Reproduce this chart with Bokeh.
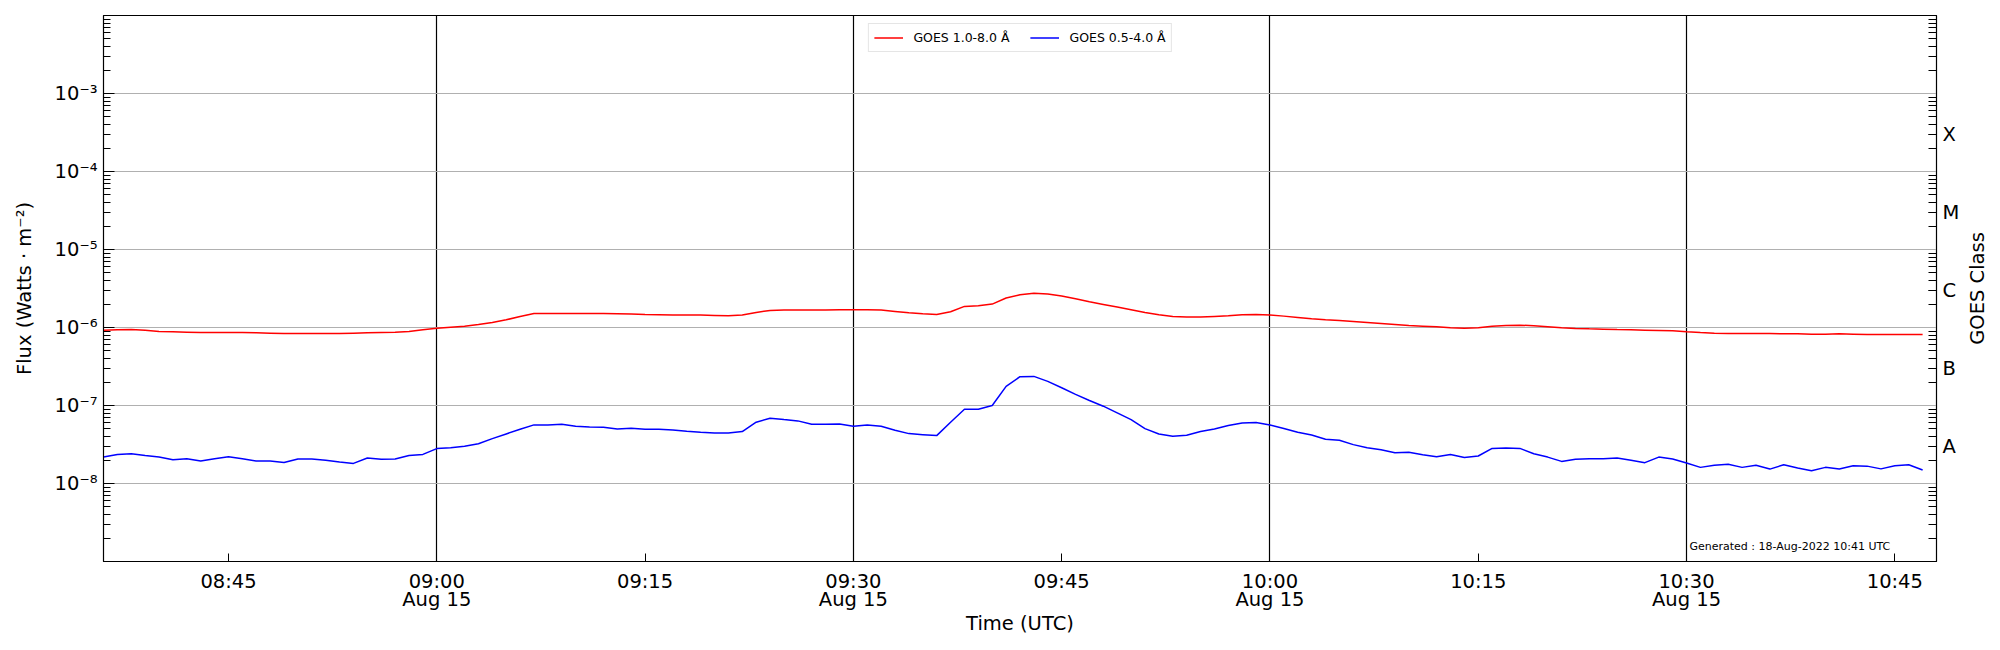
import pandas as pd
from bokeh.plotting import figure
from bokeh.layouts import row
from bokeh.models import Range1d, FixedTicker, LogAxis, Label, ColumnDataSource
from bokeh.embed import file_html
from bokeh.resources import INLINE

# ---------------- data ----------------
start_time = "2022-08-15 08:36"
x_start = "2022-08-15 08:36"
x_end = "2022-08-15 10:48"

flux_long = [
    9.24e-7, 9.33e-7, 9.42e-7, 9.24e-7, 8.88e-7, 8.80e-7, 8.71e-7, 8.62e-7, 8.62e-7, 8.62e-7,
    8.62e-7, 8.54e-7, 8.45e-7, 8.37e-7, 8.37e-7, 8.37e-7, 8.37e-7, 8.37e-7, 8.45e-7, 8.54e-7,
    8.62e-7, 8.71e-7, 8.88e-7, 9.33e-7,
    9.80e-7, 1.010e-6, 1.040e-6, 1.093e-6, 1.160e-6, 1.255e-6, 1.386e-6, 1.514e-6, 1.514e-6, 1.514e-6,
    1.514e-6, 1.514e-6, 1.514e-6, 1.500e-6, 1.485e-6, 1.470e-6, 1.456e-6, 1.442e-6, 1.442e-6, 1.442e-6,
    1.427e-6, 1.413e-6, 1.442e-6, 1.560e-6, 1.655e-6, 1.671e-6, 1.671e-6, 1.671e-6, 1.671e-6, 1.689e-6,
    1.689e-6, 1.689e-6, 1.671e-6, 1.607e-6, 1.545e-6, 1.500e-6, 1.470e-6, 1.592e-6, 1.863e-6, 1.901e-6,
    1.996e-6, 2.386e-6, 2.634e-6, 2.740e-6, 2.686e-6, 2.530e-6, 2.339e-6, 2.140e-6, 1.977e-6, 1.828e-6,
    1.689e-6, 1.560e-6, 1.456e-6, 1.386e-6, 1.359e-6, 1.359e-6, 1.386e-6, 1.413e-6, 1.456e-6, 1.470e-6,
    1.442e-6, 1.399e-6, 1.345e-6, 1.293e-6, 1.255e-6, 1.231e-6, 1.195e-6, 1.160e-6, 1.126e-6, 1.093e-6,
    1.061e-6, 1.040e-6, 1.020e-6, 9.90e-7, 9.80e-7, 9.90e-7, 1.040e-6, 1.061e-6, 1.072e-6, 1.051e-6,
    1.020e-6, 9.90e-7, 9.71e-7, 9.61e-7, 9.52e-7, 9.42e-7, 9.33e-7, 9.24e-7, 9.15e-7, 9.06e-7,
    8.80e-7, 8.62e-7, 8.45e-7, 8.37e-7, 8.37e-7, 8.37e-7, 8.37e-7, 8.29e-7, 8.29e-7, 8.21e-7,
    8.21e-7, 8.29e-7, 8.21e-7, 8.13e-7, 8.13e-7, 8.13e-7, 8.13e-7, 8.13e-7,
]

flux_short = [
    2.18e-8, 2.36e-8, 2.41e-8, 2.29e-8, 2.18e-8, 2.02e-8, 2.08e-8, 1.94e-8, 2.08e-8, 2.20e-8,
    2.08e-8, 1.94e-8, 1.94e-8, 1.86e-8, 2.06e-8, 2.06e-8, 1.98e-8, 1.88e-8, 1.81e-8, 2.12e-8,
    2.04e-8, 2.06e-8, 2.29e-8, 2.36e-8,
    2.80e-8, 2.88e-8, 3.00e-8, 3.24e-8, 3.76e-8, 4.32e-8, 4.96e-8, 5.64e-8, 5.64e-8, 5.75e-8,
    5.42e-8, 5.31e-8, 5.26e-8, 5.01e-8, 5.11e-8, 4.96e-8, 4.96e-8, 4.86e-8, 4.67e-8, 4.54e-8,
    4.45e-8, 4.45e-8, 4.63e-8, 6.10e-8, 6.87e-8, 6.60e-8, 6.35e-8, 5.75e-8, 5.75e-8, 5.81e-8,
    5.42e-8, 5.64e-8, 5.42e-8, 4.81e-8, 4.36e-8, 4.23e-8, 4.11e-8, 6.10e-8, 8.97e-8, 8.97e-8,
    1.00e-7, 1.76e-7, 2.34e-7, 2.36e-7, 2.04e-7, 1.69e-7, 1.39e-7, 1.16e-7, 9.80e-8, 8.04e-8,
    6.60e-8, 5.06e-8, 4.32e-8, 4.03e-8, 4.15e-8, 4.63e-8, 5.01e-8, 5.53e-8, 5.98e-8, 6.04e-8,
    5.64e-8, 5.06e-8, 4.54e-8, 4.19e-8, 3.69e-8, 3.58e-8, 3.15e-8, 2.88e-8, 2.71e-8, 2.48e-8,
    2.51e-8, 2.34e-8, 2.20e-8, 2.36e-8, 2.16e-8, 2.25e-8, 2.82e-8, 2.85e-8, 2.82e-8, 2.41e-8,
    2.18e-8, 1.92e-8, 2.04e-8, 2.08e-8, 2.08e-8, 2.12e-8, 1.98e-8, 1.85e-8, 2.18e-8, 2.06e-8,
    1.83e-8, 1.61e-8, 1.71e-8, 1.76e-8, 1.61e-8, 1.71e-8, 1.53e-8, 1.74e-8, 1.58e-8, 1.46e-8,
    1.61e-8, 1.53e-8, 1.69e-8, 1.67e-8, 1.54e-8, 1.69e-8, 1.74e-8, 1.49e-8,
]

series_labels = ["GOES 1.0-8.0 Å", "GOES 0.5-4.0 Å"]

x_tick_times = ["2022-08-15 08:45", "2022-08-15 09:00", "2022-08-15 09:15",
                "2022-08-15 09:30", "2022-08-15 09:45", "2022-08-15 10:00",
                "2022-08-15 10:15", "2022-08-15 10:30", "2022-08-15 10:45"]
x_tick_labels = ["08:45", "09:00\nAug 15", "09:15", "09:30\nAug 15", "09:45",
                 "10:00\nAug 15", "10:15", "10:30\nAug 15", "10:45"]
x_grid_times = ["2022-08-15 09:00", "2022-08-15 09:30",
                "2022-08-15 10:00", "2022-08-15 10:30"]

y_ticks = [1e-8, 1e-7, 1e-6, 1e-5, 1e-4, 1e-3]
y_tick_labels = ["10⁻⁸", "10⁻⁷", "10⁻⁶", "10⁻⁵", "10⁻⁴", "10⁻³"]
y_min, y_max = 1e-9, 1e-2

class_ticks = [3e-8, 3e-7, 3e-6, 3e-5, 3e-4]
class_labels = ["A", "B", "C", "M", "X"]
class_title = "GOES Class"

generated_text = "Generated : 18-Aug-2022 10:41 UTC"

# ---------------- helpers ----------------
FONT = "DejaVu Sans"
BIG = "19.5px"


def ms(s):
    return pd.Timestamp(s).value / 1e6


times = pd.date_range(start_time, periods=len(flux_long), freq="1min")
src = ColumnDataSource(dict(time=times, long=flux_long, short=flux_short))

minor_log = [m * 10.0 ** k for k in range(-9, -2) for m in range(2, 10)]

p = figure(frame_width=1833, frame_height=546,
           x_axis_type="datetime", y_axis_type="log",
           x_range=Range1d(ms(x_start), ms(x_end)),
           y_range=Range1d(y_min, y_max),
           output_backend="svg", toolbar_location=None,
           min_border_left=103, min_border_right=24,
           min_border_top=15, min_border_bottom=70)

p.outline_line_color = "black"
p.outline_line_width = 1.2
p.outline_line_alpha = 1.0
p.background_fill_color = "white"
p.border_fill_color = "white"

# grids
p.ygrid.ticker = FixedTicker(ticks=y_ticks)
p.ygrid.grid_line_color = "#b0b0b0"
p.ygrid.grid_line_width = 1.0
p.xgrid.ticker = FixedTicker(ticks=[ms(t) for t in x_grid_times])
p.xgrid.grid_line_color = "black"
p.xgrid.grid_line_width = 1.2

# lines
p.line("time", "long", source=src, color="#ff0000", line_width=1.5,
       legend_label=series_labels[0])
p.line("time", "short", source=src, color="#0000ff", line_width=1.5,
       legend_label=series_labels[1])

# x axis
xa = p.xaxis[0]
xa.ticker = FixedTicker(ticks=[ms(t) for t in x_tick_times], minor_ticks=[])
xa.major_label_overrides = {ms(t): lab for t, lab in zip(x_tick_times, x_tick_labels)}
xa.major_tick_in = 8
xa.major_tick_out = 0
xa.minor_tick_in = 0
xa.minor_tick_out = 0
xa.major_label_standoff = 8
xa.major_label_text_font = FONT
xa.major_label_text_font_size = BIG
xa.major_label_text_line_height = 0.8
xa.major_label_text_color = "black"
xa.axis_label = "Time (UTC)"
xa.axis_label_text_font = FONT
xa.axis_label_text_font_size = BIG
xa.axis_label_text_font_style = "normal"
xa.axis_label_text_color = "black"
xa.axis_label_standoff = -2
xa.axis_line_color = "black"
xa.major_tick_line_color = "black"

# left y axis
ya = p.yaxis[0]
ya.ticker = FixedTicker(ticks=y_ticks, minor_ticks=minor_log)
ya.major_label_overrides = {v: lab for v, lab in zip(y_ticks, y_tick_labels)}
ya.major_tick_in = 11
ya.major_tick_out = 0
ya.minor_tick_in = 7
ya.minor_tick_out = 0
ya.major_label_standoff = 6
ya.major_label_text_font = FONT
ya.major_label_text_font_size = BIG
ya.major_label_text_color = "black"
ya.axis_label = "Flux (Watts · m⁻²)"
ya.axis_label_text_font = FONT
ya.axis_label_text_font_size = BIG
ya.axis_label_text_font_style = "normal"
ya.axis_label_text_color = "black"
ya.axis_label_standoff = 16
ya.axis_line_color = "black"
ya.major_tick_line_color = "black"
ya.minor_tick_line_color = "black"

# right axis: GOES class
ra = LogAxis(ticker=FixedTicker(ticks=class_ticks, minor_ticks=minor_log))
ra.major_label_overrides = {v: lab for v, lab in zip(class_ticks, class_labels)}
ra.major_tick_in = 8
ra.major_tick_out = 0
ra.minor_tick_in = 8
ra.minor_tick_out = 0
ra.major_label_standoff = 6
ra.major_label_text_font = FONT
ra.major_label_text_font_size = BIG
ra.major_label_text_color = "black"
ra.axis_line_color = "black"
ra.major_tick_line_color = "black"
ra.minor_tick_line_color = "black"
p.add_layout(ra, "right")

# generated stamp
p.add_layout(Label(x=1586, y=15, x_units="screen", y_units="screen",
                   text=generated_text, text_align="left",
                   text_baseline="alphabetic",
                   text_font=FONT, text_font_size="11px", text_color="black"))

# legend
lg = p.legend[0]
lg.location = "top"
lg.orientation = "horizontal"
lg.margin = 8
lg.padding = 5
lg.spacing = 20
lg.glyph_width = 29
lg.glyph_height = 17
lg.label_height = 17
lg.label_standoff = 11
lg.label_text_font = FONT
lg.label_text_font_size = "12.5px"
lg.label_text_color = "black"
lg.border_line_color = "#cccccc"
lg.border_line_width = 1
lg.background_fill_color = "white"
lg.background_fill_alpha = 0.8

# narrow side panel holding the right-hand title (reads bottom to top);
# its frame is aligned with the main frame so y=0.5 is the frame centre
side = figure(frame_width=36, frame_height=546, title=None,
              x_range=Range1d(0, 1), y_range=Range1d(0, 1),
              output_backend="svg", toolbar_location=None,
              x_axis_location=None, y_axis_location=None,
              min_border_left=0, min_border_right=0,
              min_border_top=15, min_border_bottom=0)
side.grid.visible = False
side.outline_line_color = None
side.background_fill_color = "white"
side.border_fill_color = "white"
side.add_layout(Label(x=0.43, y=0.5, x_units="data", y_units="data",
                      text=class_title, angle=90, angle_units="deg",
                      text_align="center", text_baseline="middle",
                      text_font=FONT, text_font_size=BIG, text_color="black"))

layout = row(p, side)
open("out.html", "w").write(file_html(layout, INLINE))
